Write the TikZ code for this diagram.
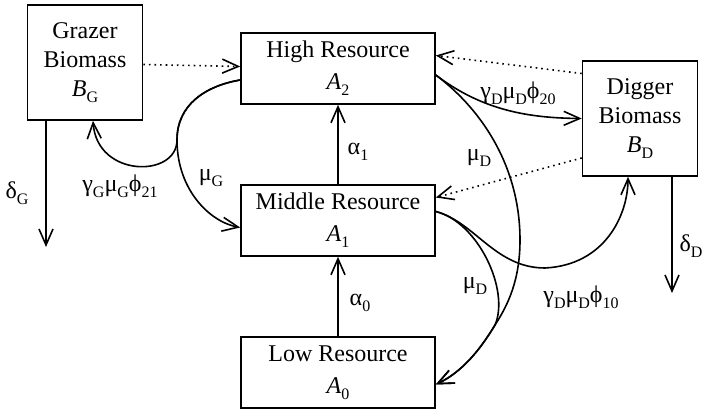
\documentclass[tikz,border=0pt]{standalone}
\usepackage{fontspec}
\setmainfont{Liberation Serif}
\usetikzlibrary{arrows.meta}
\usetikzlibrary{positioning}

\newcommand{\lsub}[1]{\raisebox{-3pt}{\fontsize{8}{8}\selectfont #1}}

\tikzset{
  pool/.style={draw, line width=0.8pt, align=center, inner sep=0pt},
  res/.style={pool, minimum width=97pt, minimum height=35.5pt, font=\fontsize{12}{16}\selectfont},
  bio/.style={pool, minimum width=57.5pt, minimum height=57.5pt, font=\fontsize{12}{14.5}\selectfont},
  lab/.style={font=\fontsize{12}{14}\selectfont, inner sep=0pt},
  flow/.style={line width=0.8pt, ->},
  feed/.style={flow, dotted},
}

\begin{document}
\begin{tikzpicture}[x=0.5pt,y=-0.5pt,on grid,>={Straight Barb[length=8pt,width=7pt]}]
   \useasboundingbox (0,0) rectangle (702,411);
   \node[res] (high) at (338,68.5) {High Resource\\\textit{A}\lsub{2}};
   \node[res] (middle) [below=76pt of high] {Middle Resource\\\textit{A}\lsub{1}};
   \node[res] (low) [below=76pt of middle] {Low Resource\\\textit{A}\lsub{0}};
   \node[bio] (grazer) [left=126.5pt of high, yshift=3pt] {Grazer\\Biomass\\\textit{B}\lsub{G}};
   \node[bio] (digger) [right=151pt of high, yshift=-25pt] {Digger\\Biomass\\\textit{B}\lsub{D}};
   \coordinate (gout) at (46,247);
   \coordinate (dout) at (672,293);

   % growth and loss
   \path[flow]
    (middle.north) edge (middle.north |- high.south)
    (low.north) edge (low.north |- middle.south)
    ([xshift=-19.5pt]grazer.south) edge (gout)
    ([xshift=16pt]digger.south) edge (dout);

   % feedback of consumers on resources
   \path[feed]
    ([yshift=-1pt]grazer.east) edge ([yshift=1pt]high.west)
    ([yshift=22.5pt]digger.west) edge ([yshift=6.5pt]high.east)
    ([yshift=-19.75pt]digger.west) edge ([yshift=11.5pt]middle.east);

   % grazing
   \draw[flow] ([yshift=-5.75pt]high.west) .. controls (205,86) and (177,105) .. (177,140)
     .. controls (177,178) and (97,178) .. ([xshift=4pt]grazer.south);
   \draw[flow] ([yshift=-5.75pt]high.west) .. controls (205,86) and (177,105) .. (177,140)
     .. controls (177,190) and (210,222) .. ([yshift=-3.5pt]middle.west);

   % digging
   \draw[flow] ([yshift=-3.25pt]high.east) .. controls (483,111) and (530,118) .. (digger.west);
   \draw[flow] ([yshift=-3.25pt]high.east) .. controls (485,112) and (520,170) .. (520,240)
     .. controls (520,280) and (508,305) .. (495,325)
     .. controls (480,350) and (462,372) .. ([yshift=-6pt]low.east);
   \draw[flow] ([yshift=4.5pt]middle.east) .. controls (478,222) and (510,290) .. (495,325)
     .. controls (480,350) and (462,372) .. ([yshift=-6pt]low.east);
   \draw[flow] ([yshift=4.5pt]middle.east) .. controls (475,222) and (495,268) .. (545,268)
     .. controls (605,265) and (628,215) .. ([xshift=-6pt]digger.south);

   % rates
   \node[lab] (lg) at (120,186) {γ\lsub{G}μ\lsub{G}ϕ\lsub{21}};
   \node[lab] (lmg) at (211,178) {μ\lsub{G}};
   \node[lab] (la1) at (358,152) {α\lsub{1}};
   \node[lab] (la0) at (360,303) {α\lsub{0}};
   \node[lab] (ld20) at (518,93) {γ\lsub{D}μ\lsub{D}ϕ\lsub{20}};
   \node[lab] (lmd1) at (479,158) {μ\lsub{D}};
   \node[lab] (lmd2) at (475,286) {μ\lsub{D}};
   \node[lab] (ld10) at (581,297) {γ\lsub{D}μ\lsub{D}ϕ\lsub{10}};
   \node[lab] (ldg) at (17,193) {δ\lsub{G}};
   \node[lab] (ldd) at (691,246) {δ\lsub{D}};
\end{tikzpicture}
\end{document}
